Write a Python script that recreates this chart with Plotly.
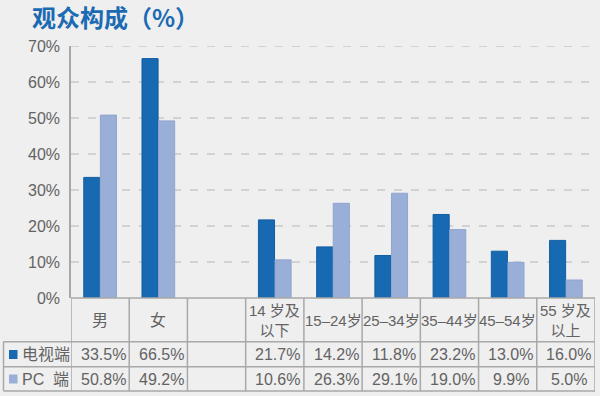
import plotly.graph_objects as go

categories = ["男", "女", "", "14 岁及<br>以下", "15–24岁", "25–34岁", "35–44岁", "45–54岁", "55 岁及<br>以上"]
tv_values = [33.5, 66.5, None, 21.7, 14.2, 11.8, 23.2, 13.0, 16.0]
pc_values = [50.8, 49.2, None, 10.6, 26.3, 29.1, 19.0, 9.9, 5.0]
series_names = ["电视端", "PC  端"]
tick_vals = [0, 10, 20, 30, 40, 50, 60, 70]

DARK = "#1769b2"
LIGHT = "#9aafd7"
GRID = "#c9c9c9"
LINE = "#a8a8a8"
TXT = "#636363"
BG = "#efefef"
NUMFONT = "Liberation Sans, Arial, Noto Sans CJK SC, sans-serif"
CJKFONT = "Noto Sans CJK SC, sans-serif"

W, H = 600, 396
L, R, T, B = 71, 5, 46, 98
pw, ph = W - L - R, H - T - B


def px_to_paper_x(px):
    return (px - L) / pw


def px_to_paper_y(py):
    return (H - B - py) / ph


idx = list(range(len(categories)))

fig = go.Figure()
fig.add_trace(go.Bar(x=idx, y=tv_values, name=series_names[0], marker=dict(color=DARK, line=dict(color="#125ea3", width=1))))
fig.add_trace(go.Bar(x=idx, y=pc_values, name=series_names[1], marker=dict(color=LIGHT, line=dict(color="#8fa5d0", width=1))))

shapes = []
# gridlines
for v in tick_vals[1:]:
    shapes.append(dict(type="line", xref="paper", yref="y", x0=0, x1=1, y0=v, y1=v,
                       line=dict(color=GRID, width=1.5, dash="8px,9px"), layer="below"))

y_top = 0
y_r1 = px_to_paper_y(341.7)
y_r2 = px_to_paper_y(366.7)
y_bot = px_to_paper_y(391)
x_left = px_to_paper_x(3.5)

# vertical column lines
for k in range(len(categories) + 1):
    shapes.append(dict(type="line", xref="x", yref="paper", x0=k - 0.5, x1=k - 0.5, y0=y_top, y1=y_bot,
                       line=dict(color=LINE, width=1.5)))
# horizontal lines
for yy in [y_r1, y_r2, y_bot]:
    shapes.append(dict(type="line", xref="paper", yref="paper", x0=x_left, x1=1, y0=yy, y1=yy,
                       line=dict(color=LINE, width=1.5)))
shapes.append(dict(type="line", xref="paper", yref="paper", x0=0, x1=1, y0=0, y1=0,
                   line=dict(color=LINE, width=1.5)))
shapes.append(dict(type="line", xref="paper", yref="paper", x0=x_left, x1=x_left, y0=y_r1, y1=y_bot,
                   line=dict(color=LINE, width=1.5)))

annotations = []
y_cat = px_to_paper_y(320)
y_row1 = px_to_paper_y(354.5)
y_row2 = px_to_paper_y(379)

for i, c in enumerate(categories):
    if c:
        size = 16 if len(c) == 1 else 15
        annotations.append(dict(x=i, y=y_cat, xref="x", yref="paper", text=c, showarrow=False,
                                font=dict(family=NUMFONT, size=size, color=TXT), yanchor="middle"))
for row_vals, yy in [(tv_values, y_row1), (pc_values, y_row2)]:
    for i, v in enumerate(row_vals):
        if v is not None:
            annotations.append(dict(x=i, y=yy, xref="x", yref="paper", text=f"{v:.1f}%", showarrow=False,
                                    xshift=3, font=dict(family=NUMFONT, size=16, color=TXT), yanchor="middle"))

# legend cells
for name, col, yy in [(series_names[0], DARK, y_row1), (series_names[1], LIGHT, y_row2)]:
    sq = 4.5 / ph
    shapes.append(dict(type="rect", xref="paper", yref="paper",
                       x0=px_to_paper_x(9), x1=px_to_paper_x(17.5), y0=yy - sq, y1=yy + sq,
                       fillcolor=col, line=dict(width=0)))
    annotations.append(dict(x=px_to_paper_x(20), y=yy, xref="paper", yref="paper", text=name,
                            showarrow=False, xanchor="left", yanchor="middle",
                            font=dict(family=NUMFONT + ", " + CJKFONT, size=16, color=TXT)))

# title
annotations.append(dict(x=px_to_paper_x(30), y=px_to_paper_y(17), xref="paper", yref="paper",
                        text="<b>观众构成（%）</b>", showarrow=False, xanchor="left", yanchor="middle",
                        font=dict(family=CJKFONT, size=24, color="#1b6ab3")))

fig.update_layout(
    width=W, height=H,
    margin=dict(l=L, r=R, t=T, b=B),
    paper_bgcolor=BG, plot_bgcolor=BG,
    barmode="group", bargap=0.43, bargroupgap=0.03,
    showlegend=False,
    shapes=shapes, annotations=annotations,
    font=dict(family=NUMFONT, color=TXT),
)
fig.update_xaxes(range=[-0.5, len(categories) - 0.5], showticklabels=False, showgrid=False,
                 zeroline=False, showline=False, fixedrange=True)
fig.update_yaxes(range=[0, 70], tickvals=tick_vals, ticktext=[f"{v}%" for v in tick_vals],
                 showgrid=False, zeroline=False, showline=True, linecolor=LINE, linewidth=1.5,
                 tickfont=dict(family=NUMFONT, size=16, color=TXT), ticklabelstandoff=6,
                 fixedrange=True)

fig.write_html("out.html", config={"displayModeBar": False},
               post_script="document.body.style.margin='0';document.body.style.background='%s';" % BG)
